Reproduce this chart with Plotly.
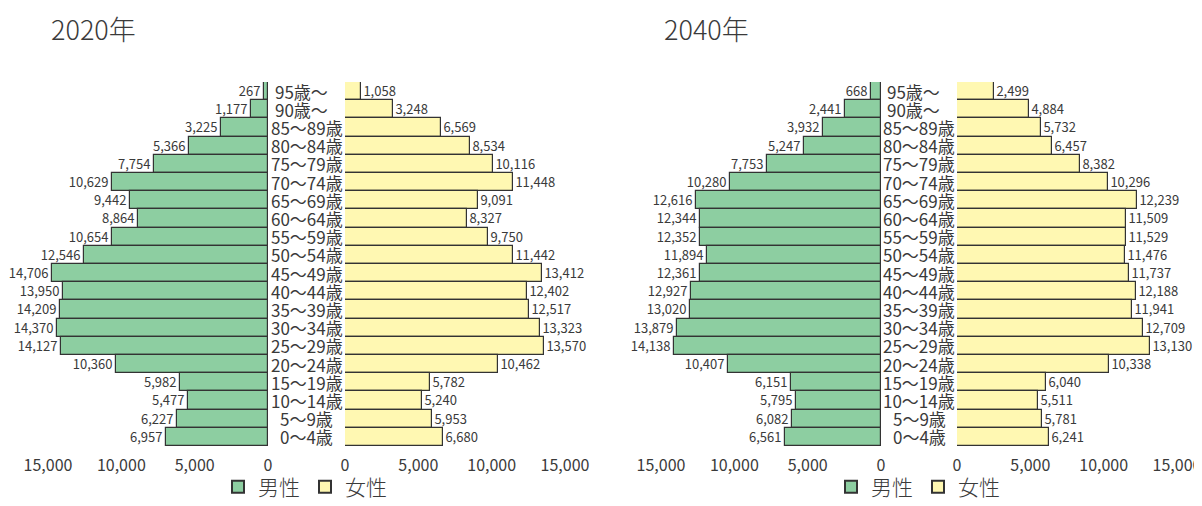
import plotly.graph_objects as go

ages = ["95歳～", "90歳～", "85～89歳", "80～84歳", "75～79歳", "70～74歳", "65～69歳",
        "60～64歳", "55～59歳", "50～54歳", "45～49歳", "40～44歳", "35～39歳", "30～34歳",
        "25～29歳", "20～24歳", "15～19歳", "10～14歳", "5～9歳", "0～4歳"]

male_2020 = [267, 1177, 3225, 5366, 7754, 10629, 9442, 8864, 10654, 12546,
             14706, 13950, 14209, 14370, 14127, 10360, 5982, 5477, 6227, 6957]
female_2020 = [1058, 3248, 6569, 8534, 10116, 11448, 9091, 8327, 9750, 11442,
               13412, 12402, 12517, 13323, 13570, 10462, 5782, 5240, 5953, 6680]
male_2040 = [668, 2441, 3932, 5247, 7753, 10280, 12616, 12344, 12352, 11894,
             12361, 12927, 13020, 13879, 14138, 10407, 6151, 5795, 6082, 6561]
female_2040 = [2499, 4884, 5732, 6457, 8382, 10296, 12239, 11509, 11529, 11476,
               11737, 12188, 11941, 12709, 13130, 10338, 6040, 5511, 5781, 6241]

titles = ["2020年", "2040年"]
tick_vals = [0, 5000, 10000, 15000]
tick_text = ["0", "5,000", "10,000", "15,000"]

OFF = 8  # page body margin
W, H = 1202 - 2 * OFF, 506 - 2 * OFF
GREEN = "#8dcea1"
YELLOW = "#fff8b2"
EDGE = "#333333"
TXT = "#3a3a3a"
CJK = "Noto Sans CJK JP, sans-serif"

def px(x):
    return (x - OFF) / W

def py(y):
    return 1 - (y - OFF) / H

fig = go.Figure()

panels = [
    dict(male=male_2020, female=female_2020, mx="x", fx="x2", y="y",
         legend="legend", mid=306.5, title_x=49),
    dict(male=male_2040, female=female_2040, mx="x3", fx="x4", y="y2",
         legend="legend2", mid=919, title_x=662),
]

for i, p in enumerate(panels):
    for name, vals, xa, color in (("男性", p["male"], p["mx"], GREEN),
                                  ("女性", p["female"], p["fx"], YELLOW)):
        fig.add_trace(go.Bar(
            x=vals, y=ages, orientation="h", name=name,
            xaxis=xa, yaxis=p["y"], legend=p["legend"],
            marker=dict(color=color, line=dict(color=EDGE, width=1.2)),
            text=[f"{v:,}" for v in vals], textposition="outside",
            textfont=dict(family=CJK, size=13, color=TXT),
            constraintext="none", cliponaxis=False, showlegend=True,
        ))
    for lab in ages:
        if lab.endswith("～"):
            fig.add_annotation(x=px(p["mid"] - 34), xref="paper", xanchor="left",
                               y=lab, yref=p["y"], text=lab, showarrow=False,
                               font=dict(family=CJK, size=17, color=TXT))
        else:
            fig.add_annotation(x=px(p["mid"]), xref="paper", xanchor="center",
                               y=lab, yref=p["y"], text=lab, showarrow=False,
                               font=dict(family=CJK, size=17, color=TXT))
    fig.add_annotation(x=px(p["title_x"]), xref="paper", xanchor="left",
                       y=py(28), yref="paper", yanchor="middle", text=titles[i],
                       showarrow=False,
                       font=dict(family=CJK, size=27, color=TXT, weight=300))

ydom = [py(446), py(82)]
axis_common = dict(tickvals=tick_vals, ticktext=tick_text, showgrid=False,
                   zeroline=False, showline=False, ticks="outside", ticklen=5,
                   tickcolor="rgba(0,0,0,0)", automargin=False,
                   ticklabeloverflow="allow",
                   tickfont=dict(family=CJK, size=16, color=TXT))

fig.update_layout(
    width=W, height=H, margin=dict(l=0, r=0, t=0, b=0, autoexpand=False),
    paper_bgcolor="white", plot_bgcolor="white",
    bargap=0, barmode="overlay",
    xaxis=dict(domain=[px(48), px(268)], range=[15000, 0], anchor="y", **axis_common),
    xaxis2=dict(domain=[px(345), px(565)], range=[0, 15000], anchor="y", **axis_common),
    xaxis3=dict(domain=[px(661), px(881)], range=[15000, 0], anchor="y2", **axis_common),
    xaxis4=dict(domain=[px(957), px(1177)], range=[0, 15000], anchor="y2", **axis_common),
    yaxis=dict(domain=ydom, range=[19.5, -0.5], anchor="x", showticklabels=False,
               showgrid=False, zeroline=False, showline=False, ticks=""),
    yaxis2=dict(domain=ydom, range=[19.5, -0.5], anchor="x3", showticklabels=False,
                showgrid=False, zeroline=False, showline=False, ticks=""),
    legend=dict(orientation="h", x=px(305), xanchor="center", y=py(487), yanchor="middle",
                font=dict(family=CJK, size=21, color=TXT, weight=300),
                itemsizing="constant", traceorder="normal", bgcolor="rgba(0,0,0,0)"),
    legend2=dict(orientation="h", x=px(918), xanchor="center", y=py(487), yanchor="middle",
                 font=dict(family=CJK, size=21, color=TXT, weight=300),
                 itemsizing="constant", traceorder="normal", bgcolor="rgba(0,0,0,0)"),
    showlegend=True,
)

fig.write_html("out.html")
